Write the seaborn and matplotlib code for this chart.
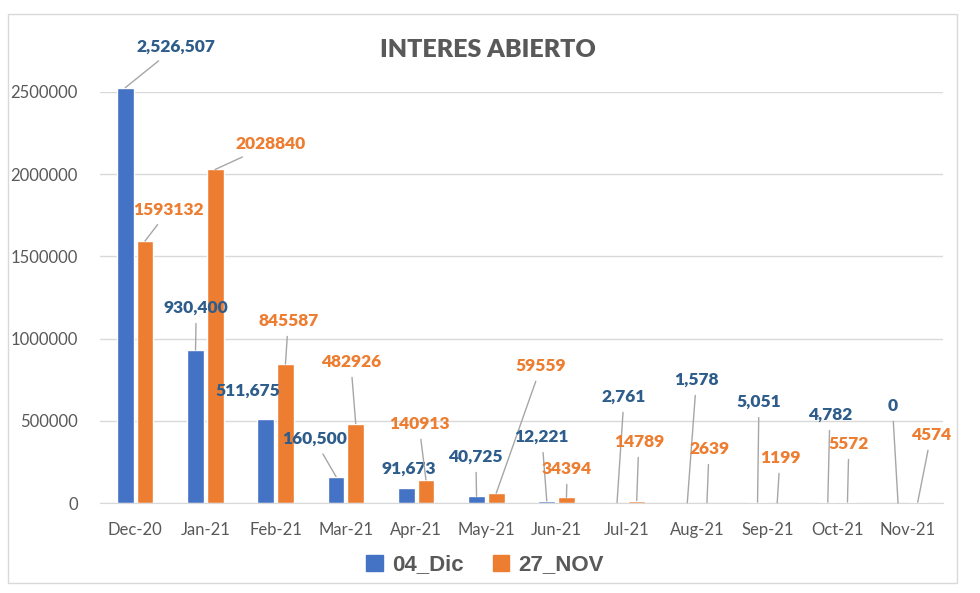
import pandas as pd
import matplotlib.pyplot as plt
import seaborn as sns

# data
months = ["Dec-20", "Jan-21", "Feb-21", "Mar-21", "Apr-21", "May-21",
          "Jun-21", "Jul-21", "Aug-21", "Sep-21", "Oct-21", "Nov-21"]
dic_04 = [2526507, 930400, 511675, 160500, 91673, 40725,
          12221, 2761, 1578, 5051, 4782, 0]
nov_27 = [1593132, 2028840, 845587, 482926, 140913, 59559,
          34394, 14789, 2639, 1199, 5572, 4574]
series_names = ["04_Dic", "27_NOV"]

# where Excel put the data labels (category units, value units)
dic_label_pos = [(0.58, 2774000), (0.87, 1186000), (1.61, 681000), (2.55, 389000),
                 (3.89, 207000), (4.85, 280000), (5.79, 401000), (6.96, 645000),
                 (7.99, 748000), (8.88, 614000), (9.89, 535000), (10.78, 590000)]
nov_label_pos = [(0.48, 1782000), (1.93, 2184000), (2.18, 1107000), (3.07, 858000),
                 (4.04, 481000), (5.78, 833000), (6.15, 207000), (7.17, 371000),
                 (8.17, 328000), (9.18, 274000), (10.16, 359000), (11.33, 414000)]
no_leader_dic = {2, 4}
no_leader_nov = set()

df = pd.DataFrame({
    "month": months * 2,
    "value": dic_04 + nov_27,
    "serie": [series_names[0]] * len(months) + [series_names[1]] * len(months),
})

blue, orange = "#4472C4", "#ED7D31"
blue_txt = "#2E5D8C"
gray = "#595959"

sns.set_style("white")
plt.rcParams["font.family"] = ["Lato", "DejaVu Sans"]

fig = plt.figure(figsize=(9.8, 5.93), dpi=100)
ax = fig.add_axes([100 / 980, 90 / 593, 843 / 980, 411 / 593])

sns.barplot(data=df, x="month", y="value", hue="serie", palette=[blue, orange],
            width=0.56, gap=0.15, saturation=1, ax=ax, legend=False)
for p in ax.patches:
    p.set_clip_on(False)

ax.set_xlim(-0.5, 11.5)
ax.set_ylim(0, 2500000)
ax.set_yticks(range(0, 2500001, 500000))
ax.set_yticklabels([str(v) for v in range(0, 2500001, 500000)])
ax.yaxis.grid(True, color="#D9D9D9", linewidth=1)
ax.set_axisbelow(True)
for s in ["top", "right", "left"]:
    ax.spines[s].set_visible(False)
ax.spines["bottom"].set_color("#D9D9D9")
ax.tick_params(axis="both", length=0, labelsize=12, labelcolor=gray)
ax.tick_params(axis="y", pad=16)
ax.tick_params(axis="x", pad=14)
ax.set_xlabel("")
ax.set_ylabel("")

# data labels with leader lines
off = 0.14
for i in range(len(months)):
    for vals, pos, sign, col, fmt, skip in [
        (dic_04, dic_label_pos, -1, blue_txt, "{:,}", no_leader_dic),
        (nov_27, nov_label_pos, 1, orange, "{}", no_leader_nov),
    ]:
        arrow = None if i in skip else dict(arrowstyle="-", color="#A6A6A6",
                                            lw=1, shrinkA=3, shrinkB=0)
        ax.annotate(fmt.format(vals[i]), xy=(i + sign * off, vals[i]),
                    xytext=pos[i], textcoords="data", ha="center", va="center",
                    fontsize=12.5, fontweight="heavy", color=col,
                    arrowprops=arrow, annotation_clip=False)

fig.text(488 / 980, 1 - 50 / 593, "INTERES ABIERTO", ha="center", va="center",
         fontsize=18, fontweight="heavy", color=gray)

# legend
handles = [plt.Rectangle((0, 0), 1, 1, color=c) for c in [blue, orange]]
fig.legend(handles, series_names, loc="center", bbox_to_anchor=(485 / 980, 1 - 565 / 593),
           ncol=2, frameon=False, handlelength=0.75, handleheight=0.75,
           columnspacing=1.3, handletextpad=0.4,
           prop={"family": "Liberation Sans", "weight": "bold", "size": 16},
           labelcolor=gray)

# chart border
fig.patches.append(plt.Rectangle((8 / 980, 1 - 583 / 593), 949 / 980, 569 / 593,
                                 transform=fig.transFigure, fill=False,
                                 edgecolor="#D9D9D9", linewidth=1))

fig.savefig("out.png", dpi=100, facecolor="white")
